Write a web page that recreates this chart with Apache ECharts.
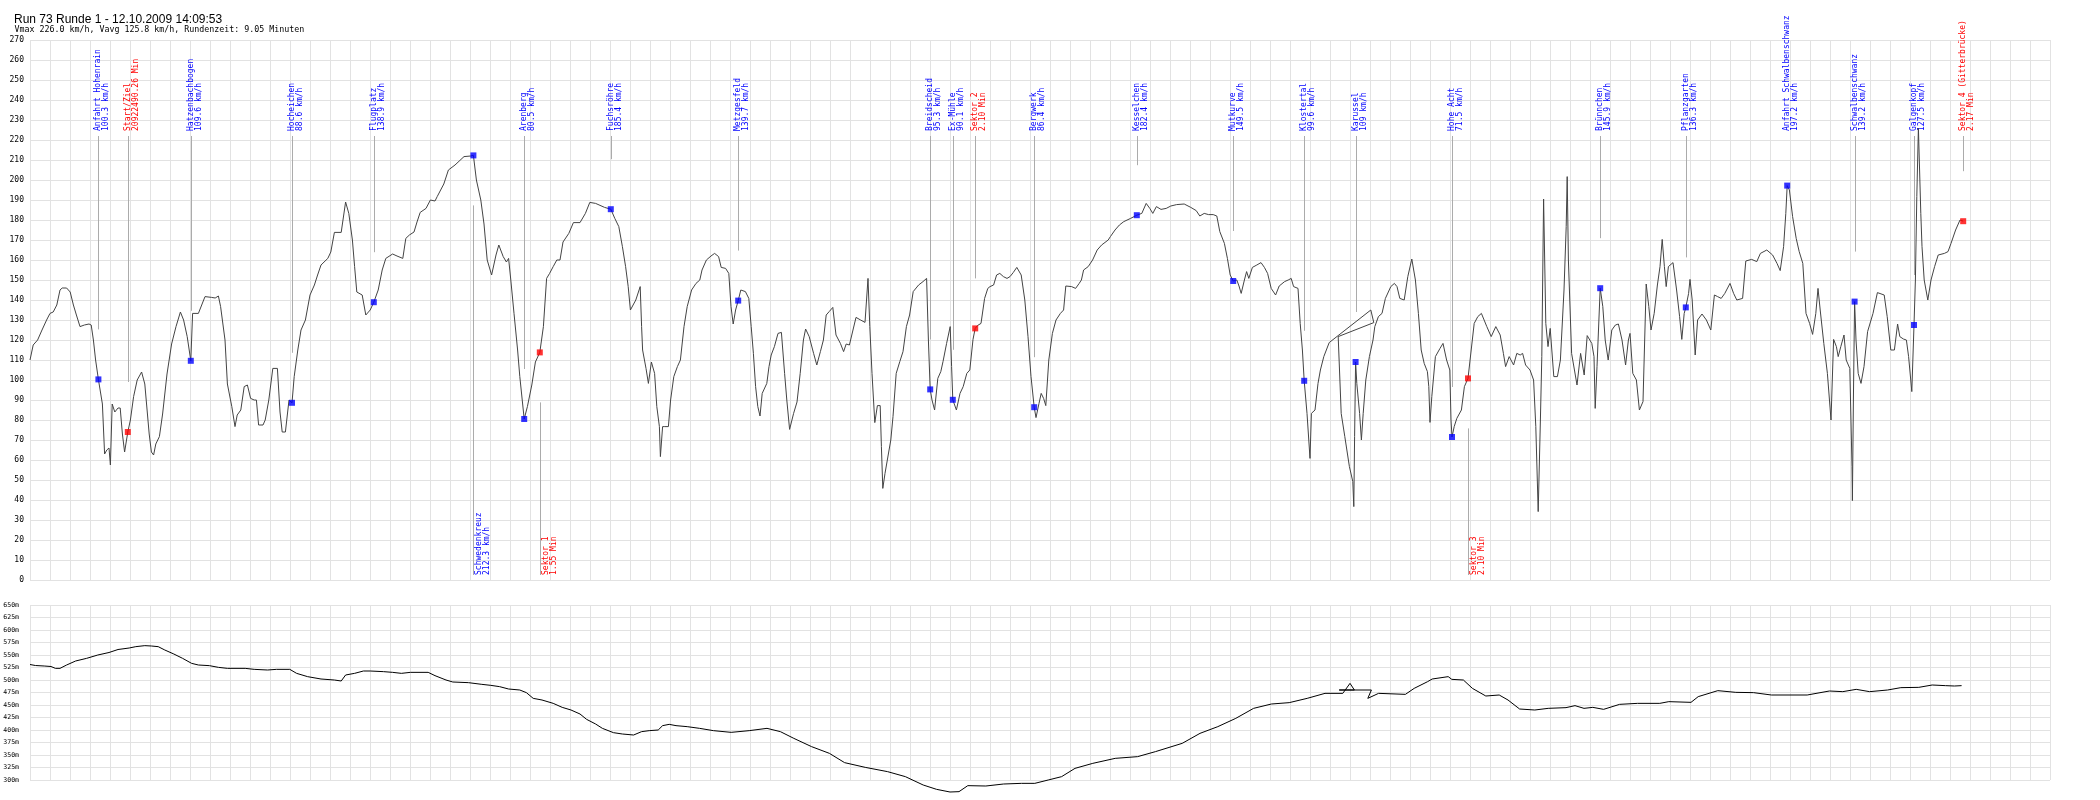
<!DOCTYPE html>
<html><head><meta charset="utf-8">
<script src="https://cdn.jsdelivr.net/npm/echarts@6/dist/echarts.min.js"></script>
<style>html,body{margin:0;padding:0;background:#fff}#c{width:2100px;height:800px}</style>
</head><body><div id="c"></div>
<script>
// ---------------- DATA ----------------
const titleText = 'Run 73 Runde 1 - 12.10.2009 14:09:53';
const subtitleText = 'Vmax 226.0 km/h, Vavg 125.8 km/h, Rundenzeit: 9.05 Minuten';

// track position (grid steps) range
const trackRange = [0, 101];
// speed axis (km/h)
const speedRange = [0, 270];
const speedStep = 10;
// altitude axis (m)
const altRange = [300, 650];
const altStep = 25;
const altUnit = 'm';

// speed trace: [track position, km/h]
const speedTrace = [
[0,110],[0.16,117.5],[0.38,120],[0.60,125],[0.83,130],[1.00,133.3],[1.16,134],[1.34,137.5],[1.50,145],[1.61,146],[1.83,146],[2.01,144],[2.17,137.5],[2.32,132.5],[2.50,126.7],[2.72,127.5],[2.95,128],[3.06,127.5],[3.17,120],[3.28,110],[3.42,100.3],[3.62,88],[3.73,63],[3.84,65],[3.95,66],[4.02,57.5],[4.11,88],[4.24,84],[4.40,86],[4.51,86],[4.62,73],[4.73,64],[4.89,74],[5.02,80],[5.18,91.7],[5.36,100],[5.58,104],[5.74,98],[5.96,73],[6.07,64],[6.18,62.5],[6.29,68],[6.47,71.7],[6.63,83],[6.85,103],[7.08,118],[7.30,126.7],[7.52,134],[7.68,130],[7.86,121.7],[8.04,109.6],[8.13,133.3],[8.42,133.3],[8.75,141.7],[9.08,141.3],[9.26,141],[9.42,142],[9.53,136.7],[9.75,120],[9.87,98],[10.09,86.7],[10.25,76.7],[10.36,82.5],[10.54,85],[10.71,96.7],[10.87,97.5],[11.03,90.8],[11.21,90],[11.32,90],[11.43,77.5],[11.65,77.5],[11.76,80],[11.94,90],[12.14,105.8],[12.37,105.8],[12.50,84],[12.61,74],[12.77,74],[12.95,90],[13.10,88.6],[13.21,101.7],[13.39,115],[13.55,125],[13.77,130],[14.00,142.5],[14.22,147.5],[14.38,152.5],[14.55,157.5],[14.89,160.8],[15.04,164],[15.22,173.8],[15.56,173.8],[15.78,189],[15.94,183.3],[16.12,170],[16.23,156.7],[16.34,144],[16.61,142.5],[16.79,132.5],[17.01,135],[17.19,138.9],[17.41,145],[17.61,155],[17.79,160.8],[18.13,163],[18.35,162],[18.64,160.8],[18.79,170.8],[18.97,172.5],[19.20,174],[19.35,179],[19.51,183.8],[19.80,185.8],[20.02,190],[20.25,189.5],[20.36,191.7],[20.69,198],[20.92,205],[21.25,207.5],[21.70,211.7],[22.03,212],[22.17,212.3],[22.32,200],[22.54,190],[22.70,178],[22.86,160],[23.08,152.5],[23.30,162.5],[23.44,167.5],[23.66,161.7],[23.82,159],[23.93,160.8],[24.04,150],[24.20,133.3],[24.38,115],[24.49,101.7],[24.71,80.5],[24.87,86.7],[25.09,97.5],[25.27,109],[25.49,113.8],[25.67,126.7],[25.83,150.8],[25.98,153.3],[26.16,156.7],[26.34,160],[26.50,160],[26.65,169],[26.94,173.3],[27.17,178.7],[27.50,178.7],[27.77,183.3],[27.99,188.8],[28.28,188.3],[28.73,186.3],[29.04,185.4],[29.24,180.8],[29.44,176.7],[29.62,166.7],[29.78,156.7],[29.91,146.7],[30.02,135],[30.29,140],[30.51,146.7],[30.58,126.7],[30.63,115],[30.80,105.8],[30.92,98.3],[31.07,109],[31.23,103.3],[31.34,86.7],[31.47,76.7],[31.52,61.7],[31.63,76.7],[31.74,76.7],[31.92,76.7],[32.03,90],[32.19,101.7],[32.37,106.7],[32.52,110],[32.70,126.7],[32.86,136.7],[33.08,145],[33.30,148.3],
[33.49,150],[33.60,155],[33.82,160],[34.05,162],[34.23,163.3],[34.43,161.7],[34.56,156.3],[34.78,155.8],[34.94,153.3],[35.05,136.7],[35.16,128],[35.28,135],[35.41,139.7],[35.54,145],[35.77,144.2],[35.94,140.8],[36.06,126.7],[36.17,113.3],[36.28,96.7],[36.39,86.7],[36.50,82],[36.61,93.3],[36.84,98.3],[36.95,106.7],[37.06,112.5],[37.22,116.7],[37.40,123.3],[37.57,123.8],[37.73,103.3],[37.84,90],[37.98,75.3],[38.18,83.3],[38.35,89],[38.51,103.3],[38.67,120],[38.78,125.5],[38.96,121.7],[39.18,113.3],[39.34,107.5],[39.52,114.2],[39.67,120],[39.81,132.5],[39.96,134.2],[40.14,136.3],[40.30,122.5],[40.52,118.3],[40.68,114.2],[40.81,118],[40.97,117.5],[41.30,131.3],[41.53,130],[41.75,128.8],[41.90,150.8],[41.99,126.7],[42.10,103.3],[42.24,78.7],[42.37,87.2],[42.51,87.2],[42.57,66.7],[42.64,45.8],[42.75,53.3],[42.91,62.5],[43.04,70],[43.15,81.7],[43.31,103.3],[43.49,109.2],[43.65,114.2],[43.82,126.7],[43.98,132.5],[44.16,144.2],[44.43,147.5],[44.65,149.2],[44.83,150.8],[44.92,120],[45.01,95.3],[45.10,90],[45.23,85],[45.39,100.8],[45.54,104.2],[45.65,109.2],[45.83,118.3],[46.01,126.7],[46.08,106.7],[46.14,90.1],[46.32,85],[46.50,93.3],[46.66,96.7],[46.84,103.3],[46.99,105],[47.15,120.3],[47.26,125.8],[47.37,127.2],[47.55,128.3],[47.73,140.8],[47.89,145.8],[48.00,146.7],[48.18,147.5],[48.33,152.5],[48.49,153.3],[48.67,151.7],[48.85,150.8],[49.00,151.7],[49.16,153.7],[49.34,156.3],[49.56,152.5],[49.74,140],[49.90,121.7],[50.05,101.7],[50.21,86.4],[50.30,81.2],[50.45,88.3],[50.56,93.3],[50.68,90.8],[50.79,87.2],[50.94,110],[51.12,123.3],[51.30,130],[51.52,133.3],[51.68,135],[51.79,147],[52.08,146.7],[52.28,145.8],[52.46,148.3],[52.57,150],[52.68,155],[52.91,156.7],[53.13,160],[53.36,165],[53.58,167.5],[53.91,170],[54.02,171.7],[54.25,175],[54.47,177.5],[54.69,179.2],[55.03,180.8],[55.34,182.4],[55.59,183.3],[55.81,188.3],[55.99,185.8],[56.14,183.3],[56.32,186.7],[56.55,185.3],[56.81,185.8],[57.04,187],[57.33,187.7],[57.71,188],[58.04,186.3],[58.31,184.7],[58.49,182],[58.71,183.3],[58.93,182.7],[59.16,182.7],[59.34,182],[59.49,174.2],[59.72,168.3],[59.87,160.8],[60.01,152.5],[60.16,149.5],[60.34,150],[60.45,147],[60.56,143.3],[60.72,150],[60.83,154.2],[60.94,150.8],[61.12,156.3],[61.34,157.5],[61.55,158.7],[61.72,156.3],[61.88,153.3],[62.06,145.8],[62.28,142.5],[62.46,147],[62.73,149.2],[62.91,150],[63.06,150.8],[63.18,146.7],[63.40,145.8],[63.51,128.3],[63.62,115],[63.71,99.6],[63.85,83.3],[64.00,60.8],[64.07,83.3],[64.25,85],[64.40,98.3],[64.52,105],[64.69,111.7],[64.96,118.7],[67.04,135],[67.19,128.7],[65.41,121.7],[65.56,83.3],[65.74,71.7],[65.97,56.7],[66.14,49.2],[66.19,36.7],[66.23,71.7],[66.28,109],[66.34,98.3],[66.48,83.3],[66.57,70],[66.66,83.3],[66.79,100],[66.97,111.7],[67.15,120],[67.24,126.7],[67.42,131.7],[67.60,133.3],[67.77,140.8],[68.04,146.7],[68.22,148.3],[68.35,146.7],[68.49,140.8],
[68.71,140],[68.89,151.7],[69.09,160.5],[69.27,150],[69.42,133.3],[69.56,115],[69.71,108.3],[69.87,104.2],[69.94,96.7],[70.00,78.8],[70.09,91.7],[70.27,111.7],[70.50,115.8],[70.65,118.3],[70.83,110],[70.99,105],[71.05,80],[71.10,71.5],[71.21,76.7],[71.34,80.8],[71.57,85],[71.72,96.7],[71.90,100.8],[72.06,115],[72.21,128.3],[72.39,131.7],[72.57,133.3],[72.84,126.7],[73.06,121.7],[73.29,126.7],[73.51,122.5],[73.67,113.3],[73.78,106.7],[73.96,111.7],[74.18,107.5],[74.34,113.3],[74.51,112.5],[74.63,113.3],[74.78,107.5],[75.00,105],[75.18,100],[75.29,76.7],[75.41,34.2],[75.52,80],[75.59,111.7],[75.68,190.5],[75.79,128.3],[75.90,116.7],[76.01,125.8],[76.19,101.7],[76.37,101.7],[76.52,110],[76.70,145],[76.81,176.7],[76.86,201.7],[76.92,160],[77.08,113.3],[77.35,97.5],[77.53,113.3],[77.71,102.5],[77.86,122.2],[78.09,118.3],[78.20,111.7],[78.26,85.8],[78.35,106.7],[78.51,145.9],[78.64,136.7],[78.76,120],[78.91,110],[79.09,125],[79.27,127.5],[79.42,128],[79.60,120],[79.78,107.5],[79.92,120],[80.00,123.3],[80.14,103.3],[80.32,100],[80.47,85],[80.65,89.2],[80.81,148],[80.94,136.7],[81.05,125],[81.21,133.3],[81.37,147.5],[81.50,156.7],[81.61,170.3],[81.72,156.7],[81.81,146.7],[81.92,156.7],[82.15,158.7],[82.33,145],[82.48,131.7],[82.59,120.3],[82.71,133.3],[82.79,136.3],[82.93,143.3],[83.00,150.3],[83.11,140],[83.26,112.5],[83.38,130],[83.60,133],[83.82,130],[84.04,125],[84.22,142.5],[84.38,141.7],[84.56,140.8],[84.74,143.3],[85.00,148.3],[85.18,143.3],[85.34,140],[85.63,140.8],[85.79,159.5],[86.08,160.3],[86.34,159.2],[86.52,163.3],[86.84,165],[87.13,162.5],[87.35,158.3],[87.51,154.7],[87.68,166.7],[87.79,183.3],[87.86,197.2],[87.97,195],[88.13,181.7],[88.31,170.8],[88.46,164.2],[88.64,158.3],[88.80,133.3],[88.98,128.3],[89.13,122.8],[89.29,133.3],[89.40,145.8],[89.51,135],[89.69,118.3],[89.87,103.3],[90.05,80],[90.18,120.3],[90.32,116.7],[90.41,111.7],[90.54,116.7],[90.70,122.5],[90.81,110],[90.99,105.8],[91.10,56.7],[91.12,39.7],[91.17,90],[91.23,139.2],[91.30,120],[91.41,103.3],[91.55,98.3],[91.70,106.7],[91.88,124.2],[92.15,133.3],[92.37,143.7],[92.71,142.5],[92.86,131.7],[93.04,115],[93.22,115],[93.38,128],[93.49,121.7],[93.67,120.5],[93.82,120],[93.93,111.7],[94.09,94.2],[94.20,127.5],[94.27,150],[94.34,191.7],[94.42,226],[94.54,183.3],[94.60,166.7],[94.71,150],[94.89,140],[95.05,150],[95.23,156.7],[95.41,162.5],[95.72,163.3],[95.90,164.2],[96.05,168.3],[96.28,175],[96.50,180],[96.66,179.4]
];

// altitude trace: [track position, metres]
const altitudeTrace = [
[0,531],[0.27,529],[0.71,528],[1.05,527],[1.27,523.3],[1.50,523.3],[1.83,530],[2.28,538],[2.83,543.3],[3.39,550],[3.95,555],[4.40,561],[4.96,564],[5.29,566.7],[5.74,568.7],[6.07,568],[6.41,566.7],[6.74,560],[7.19,552],[7.63,543.3],[8.08,533.3],[8.42,530],[8.97,528.7],[9.42,525.3],[9.87,523.3],[10.76,523.3],[11.21,521.3],[11.88,520],[12.32,521.3],[12.99,521.3],[13.33,513.3],[13.88,506.7],[14.55,502],[15.22,500],[15.56,498],[15.78,510],[16.23,513.3],[16.67,518],[17.01,518],[17.68,516.7],[18.13,515.3],[18.57,513.3],[19.02,515.3],[19.91,515.3],[20.25,508.7],[20.80,500],[21.14,496],[21.92,494.7],[22.59,491.3],[23.04,489.3],[23.48,486.7],[23.93,482],[24.49,480],[24.82,474.7],[25.16,463.3],[25.60,460],[26.16,453.3],[26.61,445.3],[27.05,440],[27.50,432],[27.83,421.3],[28.28,412],[28.62,403.3],[29.17,394.7],[29.62,392],[30.18,390],[30.58,396.7],[30.96,398.7],[31.41,400],[31.63,408.7],[31.96,411.3],[32.30,408.7],[32.86,406.7],[33.48,403.3],
[34.17,398.7],[35.06,395.3],[35.96,398.7],[36.85,403.3],[37.52,396.7],[38.19,383.3],[39.08,366.7],[39.97,353.3],[40.73,334.7],[41.76,325.3],[42.88,316.7],[43.77,306.7],[44.66,290],[45.33,281.3],[46.00,276],[46.45,276.7],[46.89,288.7],[47.79,288],[48.68,292],[49.57,293.3],[50.24,293.3],[50.91,300],[51.58,306.7],[52.25,323.3],[53.14,333.3],[54.26,343.3],[55.38,346.7],[56.27,356.7],[57.61,373.3],[58.50,393.3],[59.39,406.7],[60.29,423.3],[61.18,443.3],[62.07,452],[62.96,454.7],[63.86,463.3],[64.75,473.3],[65.64,473.3],[66.00,493.3],[66.22,480],[65.46,480],[67.07,480],[66.89,463.3],[67.43,473.3],[68.77,471.3],[69.21,483.3],[69.88,496.7],[70.11,502],[70.91,506.7],[71.09,501.3],[71.67,500],[72.12,483.3],[72.79,468],[73.46,470],[73.90,460],[74.48,442],[75.24,440],[75.91,443.3],[76.80,444.7],[77.25,448.7],[77.70,443.3],[78.14,445.3],[78.68,441.3],[79.48,451.3],[80.38,453.3],[81.49,453.3],[81.94,456.7],[83.05,455.3],[83.41,466.7],[84.39,478.7],[85.29,475.3],[86.18,474.7],[87.07,470],[88.86,470],[89.97,478],[90.64,476.7],[91.31,481.3],[91.98,476.7],[92.88,480],[93.54,484.7],[94.44,485.3],[95.11,490],[95.78,488.7],[96.22,488],[96.58,488.7]
];

// annotated points
const labelNames = ['Anfahrt Hohenrain','Start/Ziel','Hatzenbachbogen','Hocheichen','Flugplatz','Schwedenkreuz','Arenberg','Sektor 1','Fuchsröhre','Metzgesfeld','Breidscheid','Ex-Mühle','Sektor 2','Bergwerk','Kesselchen','Mutkurve','Klostertal','Karussel','Hohe Acht','Sektor 3','Brünnchen','Pflanzgarten','Anfahrt Schwalbenschwanz','Schwalbenschwanz','Galgenkopf','Sektor 4 (Gitterbrücke)'];
const labelInfo = ['100.3 km/h','20922490.26 Min','109.6 km/h','88.6 km/h','138.9 km/h','212.3 km/h','80.5 km/h','1.55 Min','185.4 km/h','139.7 km/h','95.3 km/h','90.1 km/h','2.10 Min','86.4 km/h','182.4 km/h','149.5 km/h','99.6 km/h','109 km/h','71.5 km/h','2.10 Min','145.9 km/h','136.3 km/h','197.2 km/h','139.2 km/h','127.5 km/h','2.17 Min'];
const labelPos = [3.42,4.89,8.04,13.10,17.19,22.17,24.71,25.49,29.04,35.41,45.01,46.14,47.26,50.21,55.34,60.16,63.71,66.28,71.10,71.90,78.51,82.79,87.86,91.23,94.20,96.66];
const labelKmh = [100.3,74,109.6,88.6,138.9,212.3,80.5,113.8,185.4,139.7,95.3,90.1,125.8,86.4,182.4,149.5,99.6,109,71.5,100.8,145.9,136.3,197.2,139.2,127.5,179.4];
const labelKind = ['corner','sector','corner','corner','corner','corner','corner','sector','corner','corner','corner','corner','sector','corner','corner','corner','corner','corner','corner','sector','corner','corner','corner','corner','corner','sector'];

// ---------------- LAYOUT / STYLE ----------------
const belowLabels = ['Schwedenkreuz','Sektor 1','Sektor 3'];
const GRID_COLOR = '#e2e2e2';
const LABEL_FONT = '8px "DejaVu Sans Mono"';
const LINE_H = 8;
const GAP_KMH = 25;

const chart = echarts.init(document.getElementById('c'), null, {renderer: 'canvas'});

function xAxisFor(g) {
  return {type: 'value', gridIndex: g, min: trackRange[0], max: trackRange[1], interval: 1,
    axisLine: {show: false}, axisTick: {show: false}, axisLabel: {show: false},
    splitLine: {show: true, lineStyle: {color: GRID_COLOR, width: 1}}};
}

const option = {
  animation: false,
  backgroundColor: '#ffffff',
  title: [
    {text: titleText, left: 9, top: 9, textStyle: {fontFamily: 'Liberation Sans', fontSize: 12, fontWeight: 'normal', color: '#000'}},
    {text: subtitleText, left: 9.5, top: 21, textStyle: {fontFamily: 'DejaVu Sans Mono', fontSize: 8.3, fontWeight: 'normal', color: '#000'}}
  ],
  grid: [
    {left: 30, top: 40, width: 2020, height: 540},
    {left: 30, top: 605, width: 2020, height: 175}
  ],
  xAxis: [xAxisFor(0), xAxisFor(1)],
  yAxis: [
    {type: 'value', gridIndex: 0, min: speedRange[0], max: speedRange[1], interval: speedStep,
      axisLine: {show: false}, axisTick: {show: false},
      axisLabel: {margin: 6, fontFamily: 'DejaVu Sans Mono', fontSize: 8, color: '#000'},
      splitLine: {show: true, lineStyle: {color: GRID_COLOR, width: 1}}},
    {type: 'value', gridIndex: 1, min: altRange[0], max: altRange[1], interval: altStep,
      axisLine: {show: false}, axisTick: {show: false},
      axisLabel: {margin: 11, fontFamily: 'DejaVu Sans Mono', fontSize: 6.5, color: '#000',
        formatter: v => v + altUnit},
      splitLine: {show: true, lineStyle: {color: GRID_COLOR, width: 1}}}
  ],
  series: [
    {
      type: 'custom', xAxisIndex: 0, yAxisIndex: 0, z: 1, silent: true, clip: false,
      data: labelPos.map((p, i) => [p, labelKmh[i]]),
      renderItem: function (params, api) {
        const i = params.dataIndex;
        const u = api.value(0), v = api.value(1);
        const pt = api.coord([u, v]);
        const cs = params.coordSys;
        const below = belowLabels.indexOf(labelNames[i]) >= 0;
        const color = labelKind[i] === 'sector' ? '#ff0000' : '#0000ff';
        const lx = Math.round(pt[0]) + 0.5;
        let y1, y2, tx, ty;
        if (!below) {
          ty = cs.y + 91;
          y1 = ty + 5;
          y2 = api.coord([u, v + GAP_KMH])[1];
          tx = pt[0] - LINE_H / 2;
        } else {
          ty = cs.y + cs.height - 5;
          y1 = api.coord([u, v - GAP_KMH])[1];
          y2 = ty;
          tx = pt[0] + 2;
        }
        const children = [];
        if (y2 > y1) {
          children.push({type: 'line', shape: {x1: lx, y1: y1, x2: lx, y2: y2},
            style: {stroke: '#ababab', lineWidth: 1}});
        }
        children.push({type: 'text', x: tx, y: ty, rotation: Math.PI / 2,
          style: {text: labelNames[i] + '\n' + labelInfo[i], fill: color, font: LABEL_FONT,
            lineHeight: LINE_H, align: 'left', verticalAlign: 'top'}});
        return {type: 'group', children: children};
      }
    },
    {
      type: 'line', xAxisIndex: 0, yAxisIndex: 0, data: speedTrace, showSymbol: false, z: 3,
      clip: false, lineStyle: {color: '#444444', width: 1}, silent: true
    },
    {
      type: 'scatter', xAxisIndex: 0, yAxisIndex: 0, symbol: 'rect', symbolSize: 6, z: 5, silent: true,
      data: labelPos.map((p, i) => ({value: [p, labelKmh[i]],
        itemStyle: {color: labelKind[i] === 'sector' ? '#ff0000' : '#0000ff'}}))
    },
    {
      type: 'line', xAxisIndex: 1, yAxisIndex: 1, data: altitudeTrace, showSymbol: false, z: 3,
      clip: false, lineStyle: {color: '#000000', width: 1}, silent: true
    }
  ]
};
chart.setOption(option);
</script>
</body></html>
